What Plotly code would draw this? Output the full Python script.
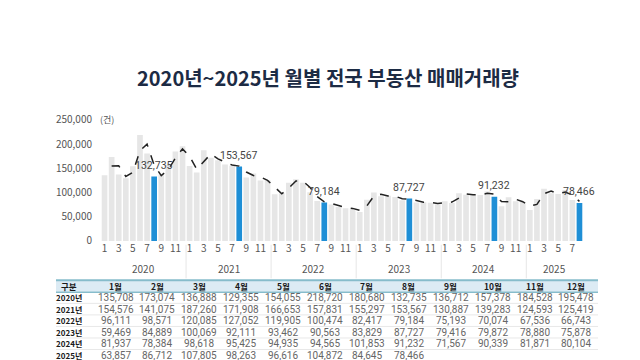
import plotly.graph_objects as go

FONT = "Noto Sans CJK KR"
NUMFONT = "Roboto"

years = [2020, 2021, 2022, 2023, 2024, 2025]
month_names = ["1월", "2월", "3월", "4월", "5월", "6월", "7월", "8월", "9월", "10월", "11월", "12월"]

v2020 = [135708, 173074, 136888, 129355, 154055, 218720, 180680, 132735, 136712, 157378, 184528, 195478]
v2021 = [154576, 141075, 187260, 171908, 166653, 157831, 155297, 153567, 130887, 139283, 124593, 125419]
v2022 = [96111, 98571, 120085, 127052, 119905, 100474, 82417, 79184, 75193, 70074, 67536, 66743]
v2023 = [59469, 84889, 100069, 92111, 93462, 90563, 83829, 87727, 79416, 79872, 78880, 75878]
v2024 = [81937, 78384, 98618, 95425, 94935, 94565, 101853, 91232, 71567, 90339, 81871, 80104]
v2025 = [63857, 86712, 107805, 98263, 96616, 104872, 84645, 78466]

# dashed line: 2-month moving average (Feb 2020 .. Aug 2025)
avg2 = [154391, 154981, 133122, 141705, 186388, 199700, 156708, 134724, 147045, 170953, 190003,
        175027, 147826, 164168, 179584, 169281, 162242, 156564, 154432, 142227, 135085, 131938, 125006,
        110765, 97341, 109328, 123569, 123479, 110190, 91446, 80801, 77189, 72634, 68805, 67140,
        63106, 72179, 92479, 96090, 92787, 92013, 87196, 85778, 83572, 79644, 79376, 77379,
        78908, 80161, 88501, 97022, 95180, 94750, 98209, 96543, 81400, 80953, 86105, 80988,
        71981, 75285, 97259, 103034, 97440, 100744, 94759, 81556]

highlight_month = 8
yticks = [0, 50000, 100000, 150000, 200000, 250000]

W, H = 640, 360
def px(x):
    return x / W
def py(y):
    return 1 - y / H

series = [v2020, v2021, v2022, v2023, v2024, v2025]
values, months, yrs = [], [], []
for y, s in zip(years, series):
    for i, v in enumerate(s):
        values.append(v)
        months.append(i + 1)
        yrs.append(y)
idx = list(range(len(values)))

colors = ["#1f8fd6" if m == highlight_month else "#e6e6e6" for m in months]

fig = go.Figure()
fig.add_trace(go.Bar(x=idx, y=values, marker=dict(color=colors, line=dict(width=0)),
                     hoverinfo="skip", showlegend=False))
fig.add_trace(go.Scatter(x=idx[1:], y=avg2, mode="lines",
                         line=dict(color="#222222", width=1.5, dash="dash"),
                         hoverinfo="skip", showlegend=False))

tickvals = [i for i, m in zip(idx, months) if m % 2 == 1]
ticktext = [str(months[i]) for i in tickvals]

annotations = []
shapes = []

def label(x, y, text, size, color, family=FONT, xref="paper", yref="paper", xanchor="center", **kw):
    annotations.append(dict(x=x, y=y, xref=xref, yref=yref, text=text, showarrow=False,
                            xanchor=xanchor, yanchor="middle", borderpad=0,
                            font=dict(family=family, size=size, color=color), **kw))

# value labels on highlighted bars
for i, (v, m) in enumerate(zip(values, months)):
    if m == highlight_month:
        label(i, v, f"{v:,}", 10.5, "#444444", family=NUMFONT, xref="x", yref="y", yshift=11)

# year labels and separators
for y in years:
    start = yrs.index(y)
    cnt = yrs.count(y)
    label(start + (cnt - 1) / 2, py(263), str(y), 10, "#555555", xref="x")
    if start > 0:
        shapes.append(dict(type="line", xref="x", yref="paper", x0=start - 0.5, x1=start - 0.5,
                           y0=py(273), y1=py(238), line=dict(color="#e6e6e6", width=1)))

label(px(91), py(108), "(건)", 9, "#555555", xanchor="left")

# ---- table (drawn from the data arrays) ----
tbl_x0, tbl_x1 = 48, 590
col0_x = 61
col_x = [107.5 + 41.9 * k for k in range(12)]
hdr_y = 280.5
row_y = [293, 305, 317, 329, 341, 353]

shapes.append(dict(type="rect", xref="paper", yref="paper", x0=px(tbl_x0), x1=px(tbl_x1),
                   y0=py(287), y1=py(275), fillcolor="#dcebf4", line=dict(width=0), layer="below"))
shapes.append(dict(type="line", xref="paper", yref="paper", x0=px(tbl_x0), x1=px(tbl_x1),
                   y0=py(275), y1=py(275), line=dict(color="#86bccb", width=2)))
shapes.append(dict(type="line", xref="paper", yref="paper", x0=px(tbl_x0), x1=px(tbl_x1),
                   y0=py(287.5), y1=py(287.5), line=dict(color="#86bccb", width=1.5)))
for k in range(len(row_y) - 1):
    yy = (row_y[k] + row_y[k + 1]) / 2
    shapes.append(dict(type="line", xref="paper", yref="paper", x0=px(tbl_x0), x1=px(tbl_x1),
                       y0=py(yy), y1=py(yy), line=dict(color="#e8e8e8", width=1)))

label(px(col0_x), py(hdr_y), "<b>구분</b>", 8.5, "#1a1a1a")
for k, m in enumerate(month_names):
    label(px(col_x[k]), py(hdr_y), f"<b>{m}</b>", 8.5, "#1a1a1a")
for r, (y, s) in enumerate(zip(years, series)):
    label(px(col0_x), py(row_y[r]), f"<b>{y}년</b>", 8, "#1a1a1a")
    for k, v in enumerate(s):
        label(px(col_x[k]), py(row_y[r]), f"{v:,}", 10, "#666666", family=NUMFONT)

fig.update_layout(
    width=W, height=H,
    margin=dict(l=0, r=0, t=0, b=0),
    paper_bgcolor="white", plot_bgcolor="white",
    font=dict(family=FONT),
    title=dict(text="<b>2020년~2025년 월별 전국 부동산 매매거래량</b>", x=0.5, xref="container",
               y=1 - 71 / 360, yref="container", yanchor="middle", xanchor="center",
               font=dict(family=FONT, size=20, color="#1c2b44")),
    bargap=0.2,
    xaxis=dict(domain=[px(93), px(575)], range=[-0.5, len(values) - 0.5], tickvals=tickvals, ticktext=ticktext,
               showgrid=False, zeroline=False, showline=False, ticks="",
               tickfont=dict(family=FONT, size=10, color="#555555")),
    yaxis=dict(domain=[py(234), py(108)], range=[0, 250000], tickvals=yticks, tickformat=",",
               showgrid=False, zeroline=False, showline=False, ticks="", ticklabelstandoff=8,
               tickfont=dict(family=FONT, size=10, color="#555555")),
    annotations=annotations,
    shapes=shapes,
)

fig.write_html("out.html")
